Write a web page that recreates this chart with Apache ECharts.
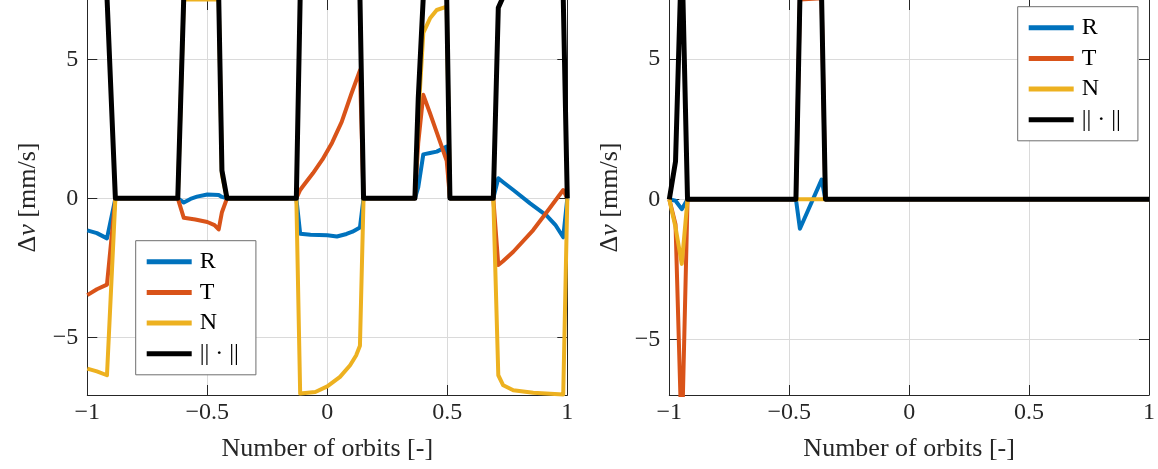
<!DOCTYPE html>
<html>
<head>
<meta charset="utf-8">
<script src="https://cdn.jsdelivr.net/npm/echarts@6/dist/echarts.min.js"></script>
<style>
  html, body { margin: 0; padding: 0; background: #ffffff; }
  #chart { width: 1158px; height: 469px; }
</style>
</head>
<body>
<div id="chart"></div>
<script>
// Thrust components (R, T, N) and their magnitude, in mm/s, against the number of orbits.
const seriesNames = ['R', 'T', 'N', '|| · ||'];

const xTicks = [-1, -0.5, 0, 0.5, 1];
const xTickLabels = ['−1', '−0.5', '0', '0.5', '1'];
const yTicks = [-5, 0, 5];
const yTickLabels = ['−5', '0', '5'];

// Left panel: [orbits, Δv]
const leftR = [
  [-1, -1.15], [-0.96, -1.25], [-0.918, -1.44], [-0.883, 0],
  [-0.623, 0], [-0.598, -0.15], [-0.57, -0.02], [-0.543, 0.06], [-0.5, 0.14], [-0.4525, 0.12], [-0.439, 0.05], [-0.418, 0],
  [-0.129, 0], [-0.113, -1.27], [-0.07, -1.31], [0, -1.33], [0.04, -1.37], [0.08, -1.28], [0.105, -1.2], [0.136, -1.05], [0.151, 0],
  [0.365, 0], [0.379, 0.4], [0.4, 1.58], [0.428, 1.63], [0.456, 1.68], [0.4975, 1.86], [0.511, 0],
  [0.6917, 0], [0.7125, 0.72], [0.733, 0.58], [0.775, 0.3], [0.845, -0.18], [0.914, -0.62], [0.95, -0.95], [0.983, -1.4], [1, 0]
];
const leftT = [
  [-1, -3.48], [-0.96, -3.27], [-0.918, -3.1], [-0.883, 0],
  [-0.623, 0], [-0.598, -0.7], [-0.55, -0.76], [-0.5, -0.85], [-0.47, -0.96], [-0.4525, -1.12], [-0.439, -0.5], [-0.418, 0],
  [-0.129, 0], [-0.113, 0.3], [-0.1, 0.45], [-0.06, 0.9], [-0.02, 1.4], [0.02, 2.0], [0.06, 2.75], [0.1, 3.75], [0.136, 4.6], [0.151, 0],
  [0.365, 0], [0.379, 2.0], [0.4, 3.72], [0.428, 3.06], [0.456, 2.37], [0.4975, 1.35], [0.511, 0],
  [0.6917, 0], [0.7125, -2.4], [0.733, -2.25], [0.775, -1.92], [0.858, -1.14], [0.914, -0.5], [0.983, 0.3], [1, 0]
];
const leftN = [
  [-1, -6.12], [-0.96, -6.22], [-0.918, -6.36], [-0.883, 0],
  [-0.623, 0], [-0.598, 7.15], [-0.4525, 7.15], [-0.439, 0.85], [-0.418, 0],
  [-0.129, 0], [-0.113, -7.02], [-0.05, -6.96], [0, -6.76], [0.053, -6.42], [0.095, -6.0], [0.12, -5.65], [0.136, -5.3], [0.151, 0],
  [0.365, 0], [0.379, 2.9], [0.4, 5.95], [0.428, 6.47], [0.456, 6.77], [0.4975, 6.89], [0.511, 0],
  [0.6917, 0], [0.7125, -6.36], [0.733, -6.72], [0.775, -6.9], [0.858, -6.99], [0.983, -7.05], [1, 0]
];
const leftNorm = [
  [-1, 7.25], [-0.918, 7.25], [-0.883, 0],
  [-0.623, 0], [-0.598, 7.25], [-0.4525, 7.25], [-0.439, 1.0], [-0.418, 0],
  [-0.129, 0], [-0.113, 7.25], [0.136, 7.25], [0.151, 0],
  [0.365, 0], [0.379, 3.6], [0.4, 7.25], [0.4975, 7.25], [0.511, 0],
  [0.6917, 0], [0.7125, 6.85], [0.733, 7.25], [0.983, 7.25], [1, 0]
];

// Right panel: [orbits, Δv]
const rightR = [
  [-1, 0], [-0.974, -0.05], [-0.948, -0.35], [-0.924, 0],
  [-0.472, 0], [-0.4554, -1.05], [-0.365, 0.7], [-0.349, 0], [1, 0]
];
const rightT = [
  [-1, 0], [-0.974, -0.9], [-0.948, -8.7], [-0.924, 0],
  [-0.472, 0], [-0.4554, 7.12], [-0.365, 7.16], [-0.349, 0], [1, 0]
];
const rightN = [
  [-1, 0], [-0.974, -1.0], [-0.948, -2.3], [-0.924, 0],
  [-0.472, 0], [-0.4554, 0], [-0.365, 0], [-0.349, 0], [1, 0]
];
const rightNorm = [
  [-1, 0], [-0.974, 1.35], [-0.948, 9.0], [-0.924, 0],
  [-0.472, 0], [-0.4554, 7.2], [-0.365, 7.2], [-0.349, 0], [1, 0]
];

const FONT = '"Liberation Serif", "Times New Roman", serif';
const AXIS_COLOR = '#262626';
const GRID_COLOR = '#dadada';
const COLORS = ['#0072BD', '#D95319', '#EDB120', '#000000'];
const WIDTHS = [4, 4, 4, 5];

function labelFor(ticks, labels) {
  return function (v) {
    const i = ticks.findIndex(t => Math.abs(t - v) < 1e-9);
    return i < 0 ? '' : labels[i];
  };
}

const panels = [
  { left: 87.3, yMin: -7.07, yMax: 7.13, lines: [leftR, leftT, leftN, leftNorm],
    legendLeft: 135.7, legendTop: 240.7 },
  { left: 669.3, yMin: -6.97, yMax: 7.1, lines: [rightR, rightT, rightN, rightNorm],
    legendLeft: 1017.7, legendTop: 6.7 }
];

const grid = [], xAxis = [], yAxis = [], series = [], legend = [];

panels.forEach((p, i) => {
  grid.push({ left: p.left, top: 0, width: 480, height: 395, containLabel: false });

  const xBase = {
    gridIndex: i, type: 'value', min: -1, max: 1, interval: 0.5,
    axisTick: { show: true, inside: true, length: 10, lineStyle: { color: AXIS_COLOR, width: 1 } },
    splitLine: { show: false }
  };
  xAxis.push(Object.assign({}, xBase, {
    position: 'bottom',
    axisLine: { show: true, onZero: false, lineStyle: { color: AXIS_COLOR, width: 1 } },
    axisLabel: { show: true, margin: 6, fontFamily: FONT, fontSize: 24, color: AXIS_COLOR,
                 formatter: labelFor(xTicks, xTickLabels) },
    splitLine: { show: true, lineStyle: { color: GRID_COLOR, width: 1 } },
    name: 'Number of orbits [-]', nameLocation: 'middle', nameGap: 41,
    nameTextStyle: { fontFamily: FONT, fontSize: 26, color: AXIS_COLOR }
  }));
  xAxis.push(Object.assign({}, xBase, {
    position: 'top',
    axisLine: { show: false, onZero: false },
    axisLabel: { show: false }
  }));

  const yBase = {
    gridIndex: i, type: 'value', min: p.yMin, max: p.yMax,
    axisTick: { show: true, inside: true, length: 10, customValues: yTicks,
                lineStyle: { color: AXIS_COLOR, width: 1 } },
    splitLine: { show: false }
  };
  yAxis.push(Object.assign({}, yBase, {
    position: 'left',
    axisLine: { show: true, onZero: false, lineStyle: { color: AXIS_COLOR, width: 1 } },
    axisLabel: { show: true, margin: 9, fontFamily: FONT, fontSize: 24, color: AXIS_COLOR,
                 customValues: yTicks, formatter: labelFor(yTicks, yTickLabels) },
    splitLine: { show: true, lineStyle: { color: GRID_COLOR, width: 1 } },
    name: 'Δ{v|v} [mm/s]', nameLocation: 'middle', nameGap: 46,
    nameTextStyle: { fontFamily: FONT, fontSize: 26, color: AXIS_COLOR,
                     rich: { v: { fontFamily: FONT, fontSize: 26, fontStyle: 'italic', color: AXIS_COLOR } } }
  }));
  yAxis.push(Object.assign({}, yBase, {
    position: 'right',
    axisLine: { show: true, onZero: false, lineStyle: { color: AXIS_COLOR, width: 1 } },
    axisLabel: { show: false }
  }));

  p.lines.forEach((d, k) => {
    series.push({
      type: 'line', name: seriesNames[k], xAxisIndex: 2 * i, yAxisIndex: 2 * i,
      data: d, showSymbol: false, symbol: 'none', clip: true, silent: true,
      animation: false,
      lineStyle: { color: COLORS[k], width: WIDTHS[k], join: 'round', cap: 'butt' },
      itemStyle: { color: COLORS[k] },
      emphasis: { disabled: true }
    });
  });

  legend.push({
    left: p.legendLeft, top: p.legendTop, orient: 'vertical',
    data: seriesNames, icon: 'rect', itemWidth: 45, itemHeight: 5, itemGap: 6.7,
    padding: [9, 17, 9, 11],
    backgroundColor: '#ffffff', borderColor: '#6e6e6e', borderWidth: 1, borderRadius: 0,
    selectedMode: false,
    itemStyle: { borderWidth: 0 },
    lineStyle: { width: 0 },
    textStyle: { fontFamily: FONT, fontSize: 24, color: '#000000', lineHeight: 22, padding: [0, 0, 0, 3] }
  });
});

const chart = echarts.init(document.getElementById('chart'), null, { renderer: 'canvas' });
chart.setOption({
  backgroundColor: '#ffffff',
  animation: false,
  grid, xAxis, yAxis, series, legend
});
</script>
</body>
</html>
